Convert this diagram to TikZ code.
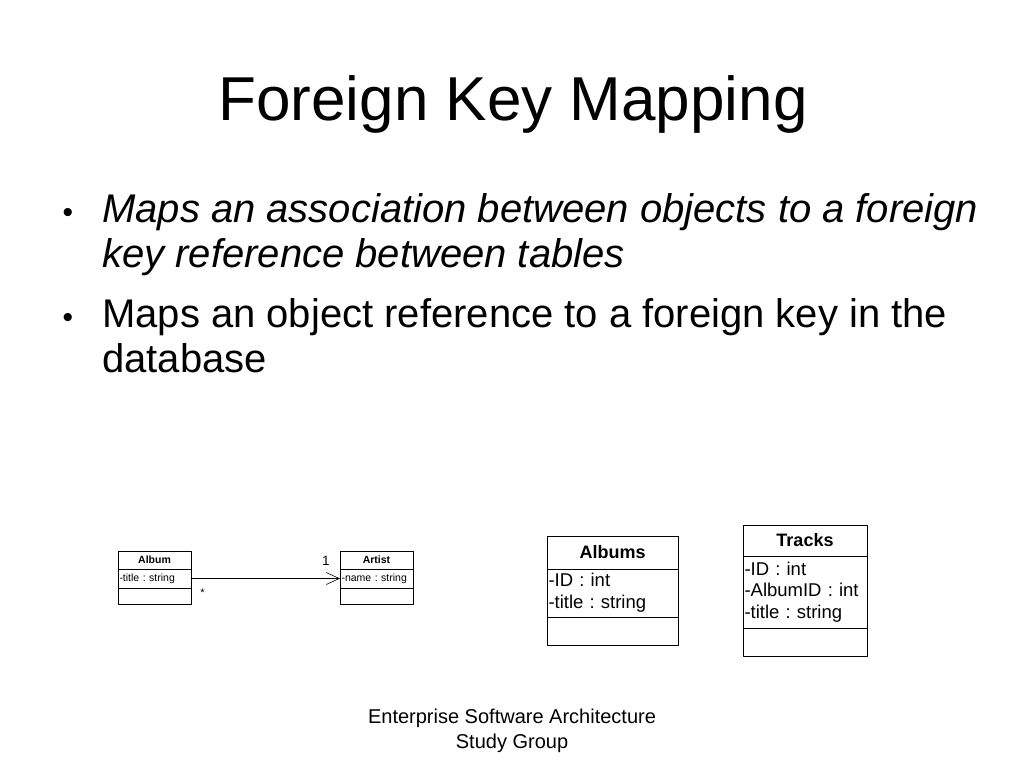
\documentclass[tikz,border=0pt]{standalone}
\usepackage{fontspec}
\setmainfont{Liberation Sans}
\frenchspacing
\usetikzlibrary{positioning,arrows.meta}
\tikzset{
	umlhead/.style={draw, line width=0.8pt, inner xsep=1.5pt, inner ysep=0pt, outer sep=0pt, align=center},
	umlpart/.style={draw, line width=0.8pt, inner xsep=1.5pt, inner ysep=0pt, outer sep=0pt, align=left},
	bullettext/.style={anchor=base west, inner sep=0pt, align=left, font=\fontsize{40}{45.5}\selectfont},
	bulletdot/.style={anchor=base, inner sep=0pt, font=\fontsize{30}{30}\selectfont}
}
\begin{document}
\begin{tikzpicture}[x=1pt, y=-1pt, line join=round, line cap=round]
	\useasboundingbox (0,0) rectangle (1024,768);
	% title
	\node (title) at (513,120) [anchor=base, inner sep=0pt, font=\fontsize{62}{62}\selectfont] {Foreign Key Mapping};
	% bullets (base = last line)
	\node (dotone) at (68,222) [bulletdot] {•};
	\node (itemone) at (102,267.5) [bullettext] {\itshape Maps an association between objects to a foreign\\\itshape key reference between tables};
	\node (dottwo) at (68,327) [bulletdot] {•};
	\node (itemtwo) at (102,372.5) [bullettext] {Maps an object reference to a foreign key in the\\database};
	% object model
	\node (albhead) at (118,551) [umlhead, anchor=north west, text width=70pt, minimum height=18pt, font=\bfseries\fontsize{10.5}{12}\selectfont] {Album};
	\node (albattr) [umlpart, below=0pt of albhead, text width=70pt, minimum height=19pt, font=\fontsize{10.5}{12}\selectfont] {-title : string};
	\node (albops) [umlpart, below=0pt of albattr, text width=70pt, minimum height=16pt] {};
	\node (arthead) at (340,551) [umlhead, anchor=north west, text width=70pt, minimum height=18pt, font=\bfseries\fontsize{10.5}{12}\selectfont] {Artist};
	\node (artattr) [umlpart, below=0pt of arthead, text width=70pt, minimum height=19pt, font=\fontsize{10.5}{12}\selectfont] {-name : string};
	\node (artops) [umlpart, below=0pt of artattr, text width=70pt, minimum height=16pt] {};
	\draw[line width=0.6pt, -{Straight Barb[length=13pt, width=12pt, line width=0.6pt]}] (albattr.east) -- (artattr.west)
		node (many) [pos=0, anchor=north west, xshift=9pt, yshift=-10pt, inner sep=0pt, font=\fontsize{11}{11}\selectfont] {*}
		node (one) [pos=1, anchor=south east, xshift=-10pt, yshift=13pt, inner sep=0pt, font=\fontsize{13.5}{13.5}\selectfont] {1};
	% tables
	\node (albumshead) at (547,536) [umlhead, anchor=north west, text width=128pt, minimum height=33pt, font=\bfseries\fontsize{18}{22}\selectfont] {Albums};
	\node (albumsattr) [umlpart, below=0pt of albumshead, text width=128pt, minimum height=48pt, font=\fontsize{18.5}{22}\selectfont] {-ID : int\\-title : string};
	\node (albumsops) [umlpart, below=0pt of albumsattr, text width=128pt, minimum height=28pt] {};
	\node (trackshead) at (743,525) [umlhead, anchor=north west, text width=121pt, minimum height=31pt, font=\bfseries\fontsize{18}{22}\selectfont] {Tracks};
	\node (tracksattr) [umlpart, below=0pt of trackshead, text width=121pt, minimum height=72pt, font=\fontsize{18.5}{21.5}\selectfont] {-ID : int\\-AlbumID : int\\-title : string};
	\node (tracksops) [umlpart, below=0pt of tracksattr, text width=121pt, minimum height=28pt] {};
	% footer
	\node (footer) at (512,748) [anchor=base, inner sep=0pt, align=center, font=\fontsize{20}{25}\selectfont] {Enterprise Software Architecture\\Study Group};
\end{tikzpicture}
\end{document}
